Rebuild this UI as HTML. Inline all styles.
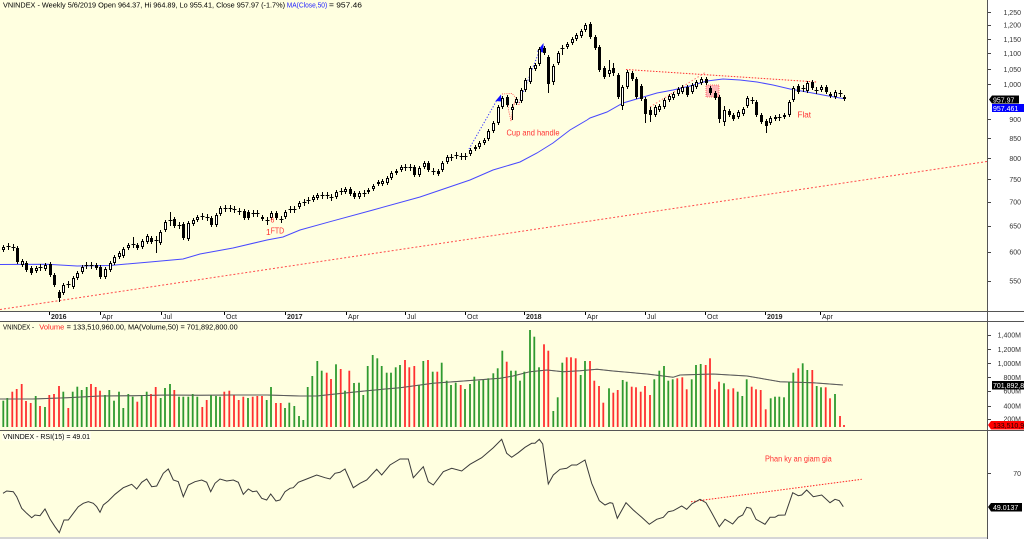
<!DOCTYPE html>
<html><head><meta charset="utf-8">
<style>
html,body{margin:0;padding:0;background:#fff;}
svg{display:block;font-family:"Liberation Sans",Arial,sans-serif;}
</style></head>
<body>
<svg id="c" width="1024" height="539" viewBox="0 0 1024 539" xmlns="http://www.w3.org/2000/svg">
<rect width="1024" height="539" fill="#fff"/>
<rect x="0" y="0" width="987" height="311" fill="#FFFFE0"/>
<rect x="0" y="322" width="987" height="108" fill="#FFFFE0"/>
<rect x="0" y="431" width="987" height="106" fill="#FFFFE0"/>
<rect x="0" y="537" width="987" height="2" fill="#d6d6d6"/>

<!-- long red trend line -->
<line x1="0" y1="309.5" x2="987" y2="161.5" stroke="#ff4a4a" stroke-width="1" stroke-dasharray="2,2"/>
<!-- top flat dotted line -->
<line x1="626" y1="69.5" x2="817" y2="82" stroke="#ff3030" stroke-width="1" stroke-dasharray="1.5,1.5"/>
<line x1="650" y1="107" x2="706" y2="72" stroke="#ff7070" stroke-width="1" stroke-dasharray="1.5,2"/>
<!-- pink box -->
<rect x="706" y="85" width="13" height="12" fill="#ffb8b8" stroke="#ff5050" stroke-width="0.8" stroke-dasharray="1,1"/>
<!-- blue dotted -->
<line x1="469" y1="149" x2="497" y2="100" stroke="#3030ff" stroke-width="1" stroke-dasharray="1.2,1.8"/>
<line x1="519" y1="103" x2="539" y2="52" stroke="#3030ff" stroke-width="1" stroke-dasharray="1.2,1.8"/>
<polygon points="501,94.5 495.5,101 501.5,101.5" fill="#1010ff"/>
<polygon points="543.5,43 537,51.5 543.5,52.5" fill="#1010ff"/>
<!-- red cup -->
<path d="M502,94 L512,93.5 L516,98 L513,107 L511,121 L508.5,110 L507.5,99 M514,104 L519,104.5 L521,98" fill="none" stroke="#ff5050" stroke-width="0.9" stroke-dasharray="1,1.2"/>

<!-- MA50 price -->
<polyline fill="none" stroke="#4848ff" stroke-width="1" points="0,264.5 47,264.3 77,266 110,265.5 150,262 183,259 200,254 233,248 267,240 283,237 300,230 330,221.7 373,210 420,197 470,180 493,170 520,162 537,153 553,143 570,130 587,120 590,118 607,112 623,103 640,98 657,93 673,90 690,86 707,81 723,79 740,80 757,82 773,85 790,89 807,92 823,95 840,98 845,98.7"/>

<g id="candles"></g>

<text x="506.5" y="135.5" font-size="8.5" fill="#ff3030" textLength="53" lengthAdjust="spacingAndGlyphs">Cup and handle</text>
<text x="797.5" y="117.5" font-size="8.5" fill="#ff3030" textLength="13.5" lengthAdjust="spacingAndGlyphs">Flat</text>
<text x="266" y="235" font-size="8.5" fill="#ff3030">1</text>
<text x="270.7" y="233.5" font-size="8.5" fill="#ff3030" textLength="13.5" lengthAdjust="spacingAndGlyphs">FTD</text>
<text x="270.5" y="222.5" font-size="7" fill="#ff3030">6</text>

<!-- header -->
<text x="3" y="7.6" font-size="7" fill="#000" textLength="282" lengthAdjust="spacingAndGlyphs">VNINDEX - Weekly 5/6/2019 Open 964.37, Hi 964.89, Lo 955.41, Close 957.97 (-1.7%)</text>
<text x="286.7" y="7.6" font-size="7" fill="#2020ff" textLength="40.5" lengthAdjust="spacingAndGlyphs">MA(Close,50)</text>
<text x="329" y="7.6" font-size="7" fill="#000" textLength="33" lengthAdjust="spacingAndGlyphs">= 957.46</text>

<!-- x axis strip -->
<g stroke="#000" stroke-width="1">
<line x1="49.5" y1="312" x2="49.5" y2="315"/><line x1="100.5" y1="312" x2="100.5" y2="315"/><line x1="161.5" y1="312" x2="161.5" y2="315"/><line x1="224.5" y1="312" x2="224.5" y2="315"/><line x1="285.5" y1="312" x2="285.5" y2="315"/><line x1="346.5" y1="312" x2="346.5" y2="315"/><line x1="405.5" y1="312" x2="405.5" y2="315"/><line x1="465.5" y1="312" x2="465.5" y2="315"/><line x1="524.5" y1="312" x2="524.5" y2="315"/><line x1="585.5" y1="312" x2="585.5" y2="315"/><line x1="645.5" y1="312" x2="645.5" y2="315"/><line x1="705.5" y1="312" x2="705.5" y2="315"/><line x1="765.5" y1="312" x2="765.5" y2="315"/><line x1="820.5" y1="312" x2="820.5" y2="315"/>
</g>
<g font-size="7" fill="#222">
<text x="51" y="318.8" font-weight="bold">2016</text>
<text x="102" y="318.8">Apr</text>
<text x="163" y="318.8">Jul</text>
<text x="226" y="318.8">Oct</text>
<text x="287" y="318.8" font-weight="bold">2017</text>
<text x="348" y="318.8">Apr</text>
<text x="407" y="318.8">Jul</text>
<text x="467" y="318.8">Oct</text>
<text x="526" y="318.8" font-weight="bold">2018</text>
<text x="587" y="318.8">Apr</text>
<text x="647" y="318.8">Jul</text>
<text x="707" y="318.8">Oct</text>
<text x="767" y="318.8" font-weight="bold">2019</text>
<text x="822" y="318.8">Apr</text>
</g>

<!-- volume panel -->
<polyline fill="none" stroke="#5a5a5a" stroke-width="1" points="0,399 33,399 67,397.7 100,396 133,395.7 167,395 200,395.3 233,395 267,395 300,396 317,396 333,394.3 367,390.7 400,387.7 433,383.3 467,380.7 500,378.3 513,376 530,371.7 547,370 563,371.7 580,370.7 597,369.3 613,371 647,374 673,377.3 680,375 713,374 747,376 780,381.7 813,382.7 843,385"/>
<g id="vol"></g>
<polyline fill="none" stroke="#5a5a5a" stroke-width="1" stroke-opacity="0.6" points="0,399 33,399 67,397.7 100,396 133,395.7 167,395 200,395.3 233,395 267,395 300,396 317,396 333,394.3 367,390.7 400,387.7 433,383.3 467,380.7 500,378.3 513,376 530,371.7 547,370 563,371.7 580,370.7 597,369.3 613,371 647,374 673,377.3 680,375 713,374 747,376 780,381.7 813,382.7 843,385"/>
<text x="3" y="329.5" font-size="7" fill="#000" textLength="31" lengthAdjust="spacingAndGlyphs">VNINDEX -</text>
<text x="39.3" y="329.5" font-size="7" fill="#ff2020" textLength="25" lengthAdjust="spacingAndGlyphs">Volume</text>
<text x="66.7" y="329.5" font-size="7" fill="#000" textLength="171" lengthAdjust="spacingAndGlyphs">= 133,510,960.00, MA(Volume,50) = 701,892,800.00</text>

<!-- RSI panel -->
<line x1="691" y1="501.7" x2="861.7" y2="479.3" stroke="#ff2020" stroke-width="1" stroke-dasharray="1.5,1.5"/>
<polyline fill="none" stroke="#3a3a3a" stroke-width="1" points="3,493.3 6.7,491 13.3,491.7 16.7,496.7 21.7,508.3 26.7,513.3 31.7,517.7 35,515 40,515.7 45,509 50,519 55,526.7 59.3,532.7 64,520 68.3,520 73.3,513.3 78.3,506.7 83.3,503.3 88.3,501.7 93.3,503.3 96.7,506.7 100,512.3 103.3,505 108.3,501 115,494.3 123.3,487.7 131.7,484.3 136.7,489 141.7,482.3 146.7,479 151.7,486.7 156.7,486 163.3,473.3 168.3,469 173.3,480 178.3,481.7 183.3,496.7 188.3,485 195,481.7 201.7,480 206.7,482.3 210.7,491.7 215,483.3 220,479 226.7,481 233.3,480 238.3,482.3 243.3,494.3 248.3,489 252.7,491.7 256.7,491 261.7,498.3 266.7,500 270.7,494 276,501 280,500 285,491.7 290,488.3 293.3,487.7 298.3,482.3 306.7,479 316.7,475 325,477.7 330,479 335,473.3 340,472.3 345,469 353.3,487.7 360,483.3 366.7,480 376.7,469.3 381.7,475 390,465 400,459 408.3,459 413.3,477.7 423.3,466.7 428.3,481.7 433.3,485 443.3,471.7 451.7,468.3 461.7,471 470,464.3 481.7,457.7 493.3,447.7 501.7,439.3 506.7,453.3 511.7,457.3 518.3,452.7 525,447.3 531.7,443.3 535,443.3 539.3,439.3 542.7,444 548.3,484 553.3,475 560,469.3 566.7,468.3 571.7,465 576.7,465 585,460 591.7,483.3 599.3,500.7 605,505 610,502.7 612.7,503.3 617.3,518.3 626,502.7 633.3,510 641.7,517.3 649.3,524.3 656.7,519.3 663.3,517.3 668.3,511.7 673.3,510.7 681.7,506 686.7,509.3 691.7,504 700,499.3 706,502.7 711.7,512.7 719.3,526.7 725,519.3 732.7,524 738.3,517.3 742.7,515 746.7,507.3 750.7,508.3 756,519.3 765,524.3 770,517.3 775,517.3 778.3,515.3 785,515 792.7,492.7 798.3,495.7 801.7,495 806.7,490 813.3,496.7 821.7,495 830,502.7 835,499.3 839.3,500.7 843.3,506.7"/>
<text x="765" y="461.5" font-size="8" fill="#ff3030" textLength="66.7" lengthAdjust="spacingAndGlyphs">Phan ky an giam gia</text>
<rect x="2" y="432" width="89" height="8.5" fill="#ffffff" fill-opacity="0.5"/>
<text x="3" y="439" font-size="7" fill="#000" textLength="87" lengthAdjust="spacingAndGlyphs">VNINDEX - RSI(15) = 49.01</text>

<!-- separators -->
<g stroke="#555" stroke-width="1">
<line x1="0" y1="311.5" x2="1024" y2="311.5"/>
<line x1="0" y1="321.5" x2="1024" y2="321.5"/>
<line x1="0" y1="430.5" x2="1024" y2="430.5"/>
<line x1="987.5" y1="0" x2="987.5" y2="539"/>
</g>

<!-- right axis: price -->
<g stroke="#444" stroke-width="1">
<line x1="988" y1="12.5" x2="991" y2="12.5"/><line x1="988" y1="25.5" x2="991" y2="25.5"/><line x1="988" y1="39.5" x2="991" y2="39.5"/><line x1="988" y1="53.5" x2="991" y2="53.5"/><line x1="988" y1="69.5" x2="991" y2="69.5"/><line x1="988" y1="84.5" x2="991" y2="84.5"/><line x1="988" y1="119.5" x2="991" y2="119.5"/><line x1="988" y1="138.5" x2="991" y2="138.5"/><line x1="988" y1="158.5" x2="991" y2="158.5"/><line x1="988" y1="179.5" x2="991" y2="179.5"/><line x1="988" y1="202.5" x2="991" y2="202.5"/><line x1="988" y1="226.5" x2="991" y2="226.5"/><line x1="988" y1="252.5" x2="991" y2="252.5"/><line x1="988" y1="281.5" x2="991" y2="281.5"/>
<line x1="988" y1="335.5" x2="991" y2="335.5"/><line x1="988" y1="349.5" x2="991" y2="349.5"/><line x1="988" y1="363.5" x2="991" y2="363.5"/><line x1="988" y1="377.5" x2="991" y2="377.5"/><line x1="988" y1="391.5" x2="991" y2="391.5"/><line x1="988" y1="406.5" x2="991" y2="406.5"/><line x1="988" y1="419.5" x2="991" y2="419.5"/>
<line x1="988" y1="473.5" x2="991" y2="473.5"/>
</g>
<g font-size="7" fill="#333" text-anchor="end">
<text x="1021" y="14.8">1,250</text>
<text x="1021" y="27.5">1,200</text>
<text x="1021" y="41.8">1,150</text>
<text x="1021" y="55.8">1,100</text>
<text x="1021" y="71.8">1,050</text>
<text x="1021" y="87.2">1,000</text>
<text x="1021" y="121.8">900</text>
<text x="1021" y="140.8">850</text>
<text x="1021" y="160.8">800</text>
<text x="1021" y="181.8">750</text>
<text x="1021" y="204.5">700</text>
<text x="1021" y="228.5">650</text>
<text x="1021" y="254.5">600</text>
<text x="1021" y="283.5">550</text>
<text x="1021" y="337.5">1,400M</text>
<text x="1021" y="351.8">1,200M</text>
<text x="1021" y="365.8">1,000M</text>
<text x="1021" y="379.8">800M</text>
<text x="1021" y="393.5">600M</text>
<text x="1021" y="408.5">400M</text>
<text x="1021" y="421.5">200M</text>
<text x="1021" y="475.8">70</text>
</g>
<polygon points="989,99.5 992,95.5 1019,95.5 1019,103.5 992,103.5" fill="#000"/>
<text x="993" y="102.3" font-size="7" fill="#fff">957.97</text>
<rect x="992" y="104" width="32" height="8" fill="#0000ff"/>
<text x="993" y="110.8" font-size="7" fill="#fff">957.461</text>
<rect x="992" y="381" width="32" height="8.5" fill="#000"/>
<text x="993" y="387.8" font-size="7" fill="#fff">701,892,8</text>
<polygon points="988,425 991,421 1024,421 1024,429.5 991,429.5" fill="#ff0000"/>
<text x="993" y="427.8" font-size="7" fill="#200">133,510,9</text>
<polygon points="988,507 991,503 1022,503 1022,511.5 991,511.5" fill="#000"/>
<text x="993" y="510" font-size="7" fill="#fff">49.0137</text>
</svg>
<script>
(function(){
var NS='http://www.w3.org/2000/svg';
function el(t,a,p){var e=document.createElementNS(NS,t);for(var k in a)e.setAttribute(k,a[k]);p.appendChild(e);return e;}
var C=[[247,250,1],[246,247,2],[247,248,2],[248,262,0],[261,265,1],[263,270,0],[268,273,0],[268,271,1],[267,268,2],[265,269,1],[264,275,0],[275,285,0],[292,298,0,290,302],[285,293,1],[284,285,2],[278,287,1],[273,278,1],[267,272,1],[265,266,2],[265,266,2],[265,268,0],[267,277,0],[269,277,1],[263,270,1],[257,263,1],[253,257,1],[249,256,1],[245,248,1],[244,245,2,237,248],[245,248,0],[241,247,1],[236,242,1],[238,242,0],[240,241,2,236,253],[232,243,1],[222,230,1],[220,221,2,212,226],[219,226,0],[225,226,2],[224,238,0],[223,239,1],[220,224,1],[217,220,1],[216,217,2],[217,218,2],[218,225,0],[215,225,1],[208,214,1],[208,209,2],[208,209,2],[209,210,2],[211,212,2],[211,218,0],[212,218,0],[213,214,2],[213,214,2],[217,219,0],[220,221,2,217,225],[213,218,1],[213,218,0],[219,220,2],[212,217,1],[209,210,2],[209,210,2],[203,207,1],[202,203,2],[200,201,2],[197,200,1],[195,198,1],
[195,196,2],[195,196,2],[197,198,2],[192,197,1],[191,192,2],[189,192,1],[189,194,0],[193,197,0],[193,197,1],[193,194,2],[190,192,1],[186,189,1],[182,184,0],[181,184,1],[178,183,1],[173,178,1],[171,173,1],[167,170,1],[167,168,2],[167,168,2],[167,175,0],[168,175,1],[163,167,1],[163,170,0],[171,172,2],[171,174,0],[163,170,1],[157,162,1],[157,158,2],[155,156,2],[156,157,2],[156,157,2],[150,154,1],[147,149,1],[143,147,1],[140,143,1],[131,139,1],[123,131,1],[107,123,1],[98,107,1],[97,105,0],[107,110,1,104,120],[99,103,1],[90,101,1],[80,90,1],[68,82,1],[65,69,1],[49,64,1],[48,53,0],[57,84,0,55,93],[66,82,1,64,85],[53,63,1],[48,49,2,45,55],[44,47,1],[39,43,1],[35,39,1],[31,36,1],[25,30,1],[24,37,0,22,39],[37,48,0],[47,70,0],[68,77,0],[70,74,1,60,77],[68,73,0,63,76],[75,97,0],
[87,106,1,85,110],[72,87,1],[73,79,0],[79,97,0],[86,99,0],[99,114,0,97,123],[110,115,0,107,122],[107,115,1],[106,110,1],[100,107,1],[96,100,1],[94,98,1],[89,94,1],[87,92,1],[87,95,0],[85,92,1],[82,87,1],[79,83,1],[79,83,0],[88,93,0],[93,98,0],[97,119,0,95,123],[110,122,1,106,126],[111,115,0],[115,119,0],[112,117,1],[109,114,1],[98,106,1],[100,101,2],[102,115,0],[115,122,0],[121,126,0,119,133],[118,123,1],[117,119,1],[117,118,2],[115,117,1],[102,115,1],[88,100,1],[86,92,0],[88,89,2],[83,91,1],[82,88,0],[90,91,2],[87,90,1],[87,92,0],[94,96,0],[92,97,1],[93,94,2],[97,99,0]];
var g=document.getElementById('candles');
for(var i=0;i<C.length;i++){var c=C[i];var cx=Math.round(3.3+i*4.62);var t=c[0],b=c[1],ty=c[2];
var hi=c.length>3?c[3]:t-(ty==2?3:2);var lo=c.length>4?c[4]:b+(ty==2?3:2);
el('line',{x1:cx+.5,x2:cx+.5,y1:hi,y2:lo,stroke:'#000','stroke-width':1},g);
if(ty==0)el('rect',{x:cx-1,y:t,width:3,height:Math.max(1,b-t),fill:'#000'},g);
else if(ty==1)el('rect',{x:cx-.5,y:t+.5,width:2,height:Math.max(1,b-t-1),fill:'#fff',stroke:'#000','stroke-width':1},g);
else el('line',{x1:cx-1.5,x2:cx+2.5,y1:t+.5,y2:t+.5,stroke:'#000','stroke-width':1},g);}
var V=[[3.3,400.7,1],[7.3,398,1],[12.3,391.7,0],[16.7,389,0],[21.7,384,0],[26,401,0],[30.7,403,0],[35.7,396,1],[40,406,0],[45,407,1],[49.3,395,0],[54,394,0],[59,386,0],[63.3,391.7,1],[68.3,408,0],[72.7,391.7,1],[77.3,386.7,1],[81.7,390,1],[86.7,387,1],[91,384,0],[95.7,387,0],[100,390.7,0],[105,395,1],[109.3,390,1],[114,400.7,1],[119,391.7,1],[123.3,408,1],[128.3,394,1],[132.7,396.7,1],[137.3,401.7,0],[141.7,395,1],[146.7,391.7,1],[151,394,0],[155.7,387,0],[160.7,398,1],[165,388,1],[170,384,1],[174.3,390,0],[179,396.7,1],[183.3,396.7,1],[188.3,396.7,1],[192.7,394,1],[197.3,396.7,1],[202.3,407,0],[206.7,400,0],[211,395,1],[216,396,1],[220,396.7,1],[224.3,391.7,0],[229.3,390.7,0],[234,395,0],[238.7,400,0],[243.3,396.7,0],[248,398,1],[252.7,396.7,0],[257.3,396,0],[262,396,0],[266.7,400,1],[271,387,1],[276,403,0],[280.7,403,0],[285,408,1],[289.3,402.7,1],[294.3,406,1],[299,416,1],[303.3,420,1],[307.7,387,1],[312.3,376,1],[317.3,361,1],[321.7,370.7,1],[326.7,372.7,0],[331,379,0],[336,364.3,1],[340.7,369,0],[345,390.7,1],[349.3,370.7,0],[354,383,1],[359,382.7,1],[363.3,395,1],[367.7,366,1],[372.7,355,1],[377.3,358.3,1],[381.7,366,1],[386.7,372.7,1],[391,372.7,1],[395.7,367.3,1],[400,365,1],[405,360,0],[409.3,367.3,0],[414.3,366,0],[419,385,1],[423.3,361,1],[428,360,0],[432.7,371.7,1],[437.3,371.7,0],[441.7,362.7,1],[446.7,380.7,1],[451,385,1],[455.7,382.7,1],[460.7,385,0],[465,389,1],[470,384,1],[474.3,376.7,1],[479,380.7,1],[483.3,380,1],[488.3,378.3,1],
[493.3,373.3,1],[497.7,368.3,1],[502.3,350.7,1],[506.7,361.7,0],[511,370.7,1],[515.7,370.7,1],[520,380.7,1],[524.3,371.7,1],[530,330,1],[534.3,336.7,1],[539,367.3,1],[544,344.3,0],[548.3,350.7,0],[553.3,411,1],[557.7,397.3,1],[562.3,362.7,1],[566.7,357.3,0],[571,357.3,0],[575.7,358.3,0],[580.7,375,1],[585,361,1],[590,361,0],[594.3,380.7,0],[599,386,0],[603.3,402.7,0],[609,388.3,1],[613.3,392.7,0],[617.7,390,0],[622.7,380,1],[626.7,381.7,1],[631.7,386.7,0],[636,387.3,0],[640.7,391.7,0],[645,386,0],[650,395,0],[654.3,379.3,1],[659.3,370.7,1],[664,366,1],[668.3,380.7,1],[672.7,379.3,1],[677.3,378.3,0],[682.3,377.3,0],[686.7,389.3,0],[691.7,379.3,1],[696,365,1],[700.7,364,1],[705.7,365,0],[710,358.3,0],[715,389.3,0],[719,381.7,0],[724,383.3,1],[728.3,389.3,0],[733.3,388.3,0],[737.7,391.7,1],[742.3,396,1],[746.7,379.3,1],[751.7,386.7,0],[756,389.3,0],[760.7,390,0],[765.7,409.3,0],[770.7,398.3,1],[775,396.7,1],[779.3,396.7,1],[784,397.3,1],[789,381.7,1],[793.3,372.7,1],[798.3,368.3,0],[802.7,363.3,1],[807.3,370,1],[812.3,370,0],[816.7,386,1],[821,387.3,1],[825.7,387.3,0],[830,398.3,0],[835,394,1],[840,416,0],[844,425,0]];
var gv=document.getElementById('vol');
for(var j=0;j<V.length;j++){var v=V[j];el('rect',{x:v[0]-0.9,y:v[1],width:1.8,height:427-v[1],fill:v[2]?'#2f9a2f':'#ff3030'},gv);}
})();
</script>
</body></html>
